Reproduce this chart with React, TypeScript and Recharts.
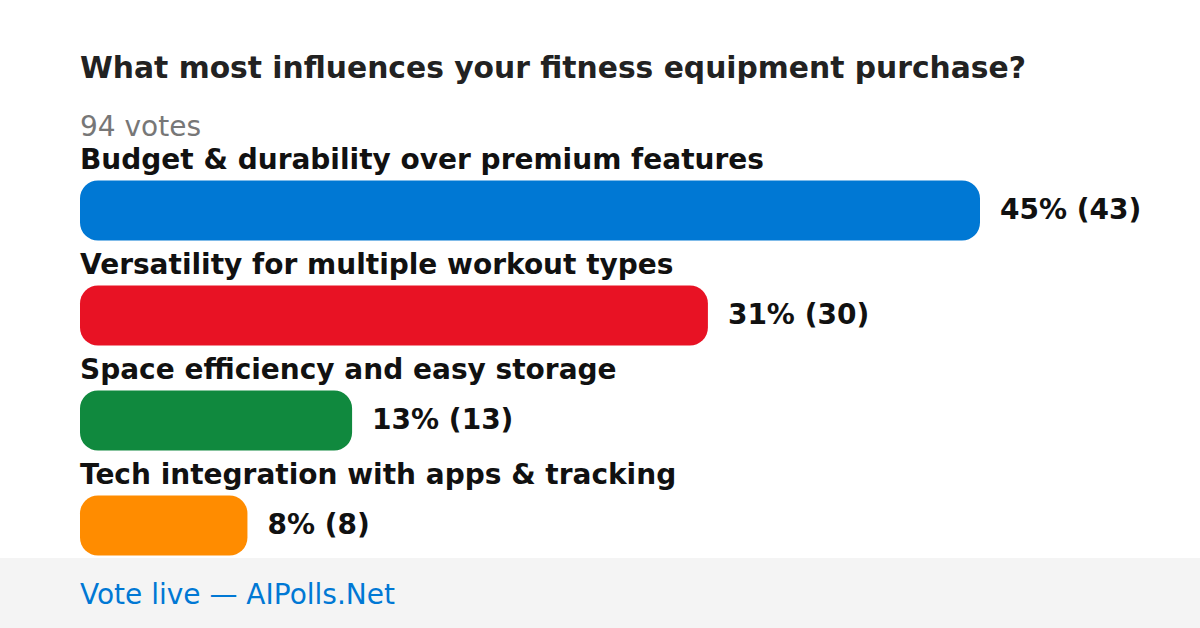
import { BarChart, Bar, XAxis, YAxis, Cell, LabelList } from 'recharts';

const options = [
  'Budget & durability over premium features',
  'Versatility for multiple workout types',
  'Space efficiency and easy storage',
  'Tech integration with apps & tracking',
];
const votes = [43, 30, 13, 8];
const percents = [45, 31, 13, 8];
const colors = ['#0078d4', '#e81224', '#10893e', '#ff8c00'];
const totalVotes = 94;

const font = 'DejaVu Sans';

const data = options.map((name, i) => ({ name, votes: votes[i], pct: percents[i] }));

function OptionLabel(props: any) {
  const { x, y, index } = props;
  return (
    <text x={x} y={y - 12} style={{ fontFamily: font, fontSize: 28, fontWeight: 700 }} fill="#111">
      {options[index]}
    </text>
  );
}

function ValueLabel(props: any) {
  const { x, y, width, height, index } = props;
  return (
    <text
      x={x + width + 20}
      y={y + height / 2 + 8}
      style={{ fontFamily: font, fontSize: 28, fontWeight: 700 }}
      fill="#111"
    >
      {`${percents[index]}% (${votes[index]})`}
    </text>
  );
}

export default function App() {
  return (
    <div
      style={{
        position: 'absolute',
        left: 0,
        top: 0,
        width: 1200,
        height: 628,
        background: '#fff',
        overflow: 'hidden',
      }}
    >
      <div style={{ position: 'absolute', left: 0, top: 558, width: 1200, height: 70, background: '#f4f4f4' }} />
      <svg width={1200} height={628} style={{ position: 'absolute', left: 0, top: 0 }}>
        <text x={80} y={78} style={{ fontFamily: font, fontSize: 29.75, fontWeight: 700 }} fill="#222">
          What most influences your fitness equipment purchase?
        </text>
        <text x={80} y={136} style={{ fontFamily: font, fontSize: 28 }} fill="#777">
          {`${totalVotes} votes`}
        </text>
        <text x={80} y={604} style={{ fontFamily: font, fontSize: 28 }} fill="#0078d4">
          Vote live — AIPolls.Net
        </text>
      </svg>
      <div style={{ position: 'absolute', left: 0, top: 0 }}>
        <BarChart
          width={1200}
          height={628}
          data={data}
          layout="vertical"
          margin={{ top: 157.5, right: 220, bottom: 50.5, left: 80 }}
          barSize={60}
        >
          <XAxis type="number" dataKey="votes" domain={[0, 43]} hide />
          <YAxis type="category" dataKey="name" hide width={0} />
          <Bar dataKey="votes" radius={18} isAnimationActive={false}>
            {data.map((d, i) => (
              <Cell key={d.name} fill={colors[i]} />
            ))}
            <LabelList dataKey="name" content={OptionLabel} />
            <LabelList dataKey="votes" content={ValueLabel} />
          </Bar>
        </BarChart>
      </div>
    </div>
  );
}
